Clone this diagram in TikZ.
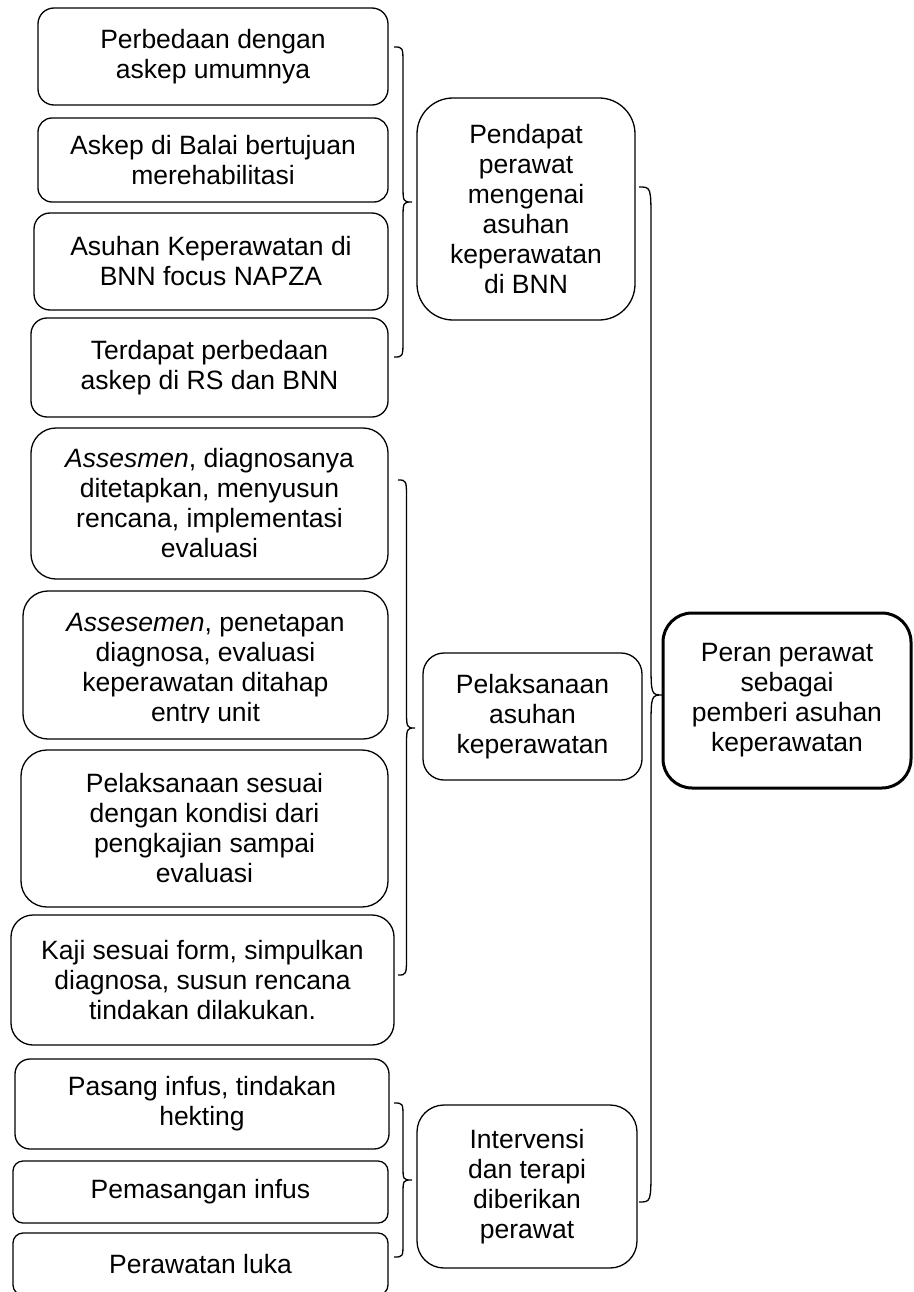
\documentclass[tikz,border=0pt]{standalone}
\usepackage{fontspec}
\setmainfont{Liberation Sans}
\tikzset{
  box/.style={draw, line width=1.3pt, align=center, inner sep=0pt,
    font=\fontsize{26.5}{30}\selectfont},
  txt/.style={align=center, inner sep=0pt, font=\fontsize{26.5}{30}\selectfont},
  mainbox/.style={box, line width=3pt},
  bracestyle/.style={draw, line width=1.3pt},
}
% #1 name of tip, #2 x0, #3 y top, #4 y bottom, #5 y mid, #6 x tip, #7 curve height
\newcommand\wbrace[7]{%
  \draw[bracestyle] (#2,#3) .. controls ({(#2+#6)/2},#3) .. ({(#2+#6)/2},{#3+#7})
    -- ({(#2+#6)/2},{#5-#7}) .. controls ({(#2+#6)/2},#5) .. (#6,#5) coordinate (#1)
    .. controls ({(#2+#6)/2},#5) .. ({(#2+#6)/2},{#5+#7})
    -- ({(#2+#6)/2},{#4-#7}) .. controls ({(#2+#6)/2},#4) .. (#2,#4);}
\begin{document}
\begin{tikzpicture}[x=1pt,y=-1pt]
\useasboundingbox (0,0) rectangle (913,1292);
\clip (0,0) rectangle (913,1292);
% group 1
\node[box, minimum width=350pt, minimum height=97pt, rounded corners=16pt] (b1) at (213,56.5) {Perbedaan dengan\\askep umumnya};
\node[box, minimum width=350pt, minimum height=84pt, rounded corners=14pt] (b2) at (213,160) {Askep di Balai bertujuan\\merehabilitasi};
\node[box, minimum width=354pt, minimum height=97pt, rounded corners=16pt] (b3) at (211,261.5) {Asuhan Keperawatan di\\BNN focus NAPZA};
\node[box, minimum width=357pt, minimum height=99pt, rounded corners=16pt] (b4) at (209.5,367.5) {Terdapat perbedaan\\askep di RS dan BNN};
\node[box, minimum width=218pt, minimum height=222pt, rounded corners=36pt] (pendapat) at (526,209) {Pendapat\\perawat\\mengenai\\asuhan\\keperawatan\\di BNN};
% group 2
\node[box, minimum width=357pt, minimum height=151pt, rounded corners=25pt] (b5) at (209.5,503.5) {\textit{Assesmen}, diagnosanya\\ditetapkan, menyusun\\rencana, implementasi\\evaluasi};
\node[box, minimum width=365pt, minimum height=148pt, rounded corners=25pt] (b6) at (205.5,665) {};
\begin{scope}
  \clip (23,591) rectangle (388,722);
  \node[txt] (b6t) at (205.5,670) {\textit{Assesemen}, penetapan\\diagnosa, evaluasi\\keperawatan ditahap\\entry unit};
\end{scope}
\node[box, minimum width=367pt, minimum height=157pt, rounded corners=26pt] (b7) at (204.5,828.5) {Pelaksanaan sesuai\\dengan kondisi dari\\pengkajian sampai\\evaluasi};
\node[box, minimum width=383pt, minimum height=130pt, rounded corners=22pt] (b8) at (202.5,980) {Kaji sesuai form, simpulkan\\diagnosa, susun rencana\\tindakan dilakukan.};
\node[box, minimum width=219pt, minimum height=127pt, rounded corners=21pt] (pelaksanaan) at (532.5,716.5) {Pelaksanaan\\asuhan\\keperawatan};
% group 3
\node[box, minimum width=374pt, minimum height=90pt, rounded corners=15pt] (b9) at (202,1104) {Pasang infus, tindakan\\hekting};
\node[box, minimum width=375pt, minimum height=62pt, rounded corners=10pt] (b10) at (200.5,1192) {Pemasangan infus};
\node[box, minimum width=375pt, minimum height=62pt, rounded corners=10pt] (b11) at (200.5,1264) {Perawatan luka};
\node[box, minimum width=220pt, minimum height=163pt, rounded corners=27pt] (intervensi) at (527,1186.5) {Intervensi\\dan terapi\\diberikan\\perawat};
% main
\node[mainbox, minimum width=248pt, minimum height=175pt, rounded corners=29pt] (peran) at (787,700.5) {Peran perawat\\sebagai\\pemberi asuhan\\keperawatan};
% braces
\wbrace{t1}{394}{47}{357}{202}{412}{18}
\wbrace{t2}{398}{480}{975}{728}{415}{20}
\wbrace{t3}{394}{1103}{1257}{1180}{412}{15}
\wbrace{t4}{639}{187}{1202}{695}{663}{35}
\end{tikzpicture}
\end{document}
